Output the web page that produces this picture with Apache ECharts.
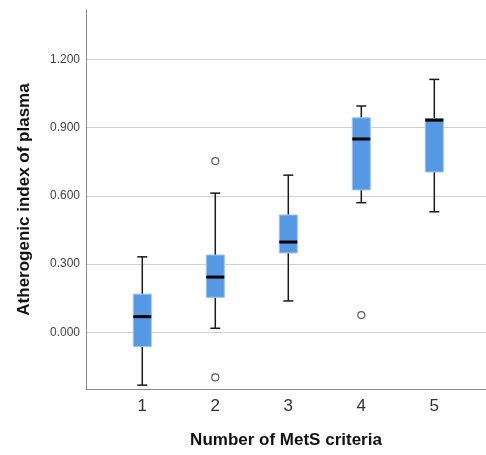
<!DOCTYPE html>
<html>
<head>
<meta charset="utf-8">
<script src="https://cdn.jsdelivr.net/npm/echarts@6/dist/echarts.min.js"></script>
<style>html,body{margin:0;padding:0;background:#fff}#c{width:486px;height:455px}</style>
</head>
<body>
<div id="c"></div>
<script>
var categories = ['1', '2', '3', '4', '5'];
var whiskerMin = [-0.232, 0.018, 0.138, 0.570, 0.530];
var q1 = [-0.062, 0.154, 0.349, 0.626, 0.705];
var median = [0.069, 0.243, 0.397, 0.850, 0.933];
var q3 = [0.168, 0.340, 0.516, 0.943, 0.940];
var whiskerMax = [0.332, 0.612, 0.691, 0.995, 1.112];
var outlierCategory = [1, 1, 3];
var outlierValue = [0.753, -0.198, 0.076];
var yTicks = [0, 0.3, 0.6, 0.9, 1.2];

var boxData = categories.map(function (c, i) {
  return [i, whiskerMin[i], q1[i], median[i], q3[i], whiskerMax[i]];
});
var outlierData = outlierCategory.map(function (c, i) { return [c, outlierValue[i]]; });

var chart = echarts.init(document.getElementById('c'));
var BOX_W = 18, CAP_W = 10;
chart.setOption({
  animation: false,
  grid: { left: 86, top: 10, right: 0, bottom: 66 },
  xAxis: {
    type: 'value',
    min: -0.771, max: 4.708,
    axisLine: { show: true, onZero: false, lineStyle: { color: '#8a8a8a', width: 1 } },
    axisTick: { show: false, customValues: [0, 1, 2, 3, 4] },
    axisLabel: {
      customValues: [0, 1, 2, 3, 4],
      formatter: function (v) { return categories[Math.round(v)]; },
      fontFamily: 'Liberation Sans', fontSize: 17, color: '#333', margin: 9
    },
    splitLine: { show: false },
    name: 'Number of MetS criteria',
    nameLocation: 'middle', nameGap: 43,
    nameTextStyle: { fontFamily: 'Liberation Sans', fontWeight: 'bold', fontSize: 17, color: '#111' }
  },
  yAxis: {
    type: 'value',
    min: -0.249, max: 1.417,
    axisLine: { show: true, onZero: false, lineStyle: { color: '#8a8a8a', width: 1 } },
    axisTick: { show: false, customValues: yTicks },
    axisLabel: {
      customValues: yTicks,
      formatter: function (v) { return v.toFixed(3); },
      fontFamily: 'Liberation Sans', fontSize: 12, color: '#444', margin: 6
    },
    splitLine: { show: true, lineStyle: { color: '#cfcfcf', width: 1 } },
    name: 'Atherogenic index of plasma',
    nameLocation: 'middle', nameGap: 53,
    nameTextStyle: { fontFamily: 'Liberation Sans', fontWeight: 'bold', fontSize: 17, color: '#111' }
  },
  series: [{
    type: 'custom',
    data: boxData,
    renderItem: function (params, api) {
      var x = api.value(0);
      var pMin = api.coord([x, api.value(1)]);
      var pQ1 = api.coord([x, api.value(2)]);
      var pMed = api.coord([x, api.value(3)]);
      var pQ3 = api.coord([x, api.value(4)]);
      var pMax = api.coord([x, api.value(5)]);
      var cx = pMed[0];
      var ws = { stroke: '#1a1a1a', lineWidth: 1.5 };
      return {
        type: 'group',
        children: [
          { type: 'line', shape: { x1: cx, y1: pMax[1], x2: cx, y2: pQ3[1] }, style: ws },
          { type: 'line', shape: { x1: cx, y1: pQ1[1], x2: cx, y2: pMin[1] }, style: ws },
          { type: 'line', shape: { x1: cx - CAP_W / 2, y1: pMax[1], x2: cx + CAP_W / 2, y2: pMax[1] }, style: ws },
          { type: 'line', shape: { x1: cx - CAP_W / 2, y1: pMin[1], x2: cx + CAP_W / 2, y2: pMin[1] }, style: ws },
          { type: 'rect', shape: { x: cx - BOX_W / 2, y: pQ3[1], width: BOX_W, height: pQ1[1] - pQ3[1] },
            style: { fill: '#5598e4', stroke: '#9cc4f0', lineWidth: 1 } },
          { type: 'line', shape: { x1: cx - BOX_W / 2, y1: pMed[1], x2: cx + BOX_W / 2, y2: pMed[1] },
            style: { stroke: '#000', lineWidth: 3 } }
        ]
      };
    }
  }, {
    type: 'scatter',
    data: outlierData,
    symbol: 'circle',
    symbolSize: 7,
    itemStyle: { color: '#fff', borderColor: '#333', borderWidth: 1.2 }
  }]
});
</script>
</body>
</html>
